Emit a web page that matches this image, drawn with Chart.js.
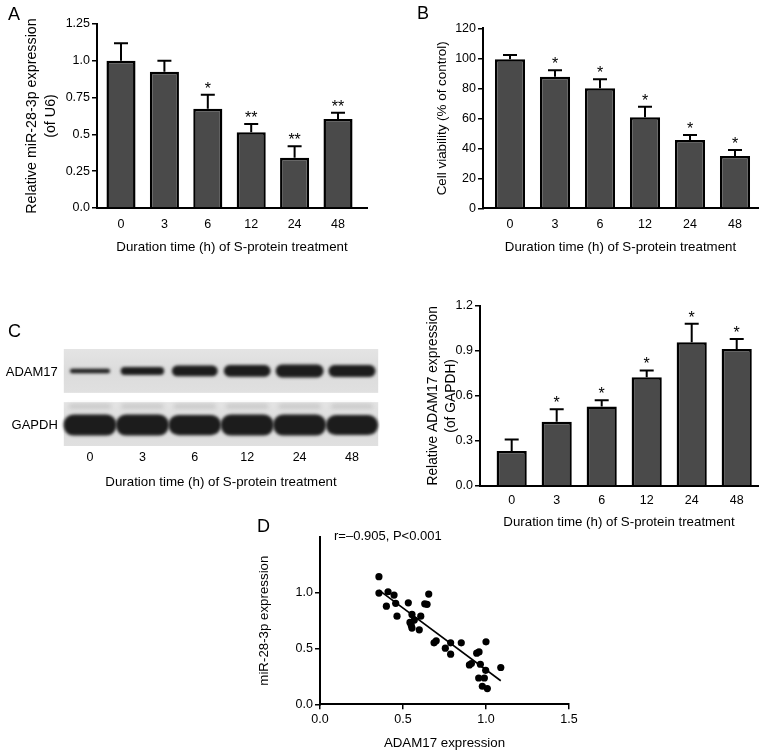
<!DOCTYPE html>
<html><head><meta charset="utf-8">
<script src="https://cdn.jsdelivr.net/npm/chart.js@4.4.1/dist/chart.umd.min.js"></script>
<style>
html,body{margin:0;padding:0;background:#fff;}
body{width:765px;height:755px;position:relative;overflow:hidden;font-family:'Liberation Sans',Arial,sans-serif;}
canvas{position:absolute;}
.lbl{position:absolute;line-height:1;white-space:nowrap;color:#000;}
</style></head><body>
<canvas id="cA" width="380" height="256" style="left:0;top:0"></canvas>
<canvas id="cB" width="385" height="256" style="left:380px;top:0"></canvas>
<canvas id="cBlot" width="380" height="151" style="left:0;top:340px"></canvas>
<canvas id="cC" width="385" height="241" style="left:380px;top:290px"></canvas>
<canvas id="cD" width="350" height="237" style="left:250px;top:515px"></canvas>
<div class="lbl" style="left:8px;top:4.8px;font-size:18px">A</div>
<div class="lbl" style="left:417px;top:3.8px;font-size:18px">B</div>
<div class="lbl" style="left:8px;top:321.8px;font-size:18px">C</div>
<div class="lbl" style="left:257px;top:516.8px;font-size:18px">D</div>
<div class="lbl" style="left:334px;top:529px;font-size:13px">r=–0.905, P&lt;0.001</div>
<script>
// ---------- DATA ----------
const timeLabels = ['0', '3', '6', '12', '24', '48'];
const xTitle = 'Duration time (h) of S-protein treatment';

// Panel A: relative miR-28-3p expression
const mirMean = [1.0, 0.925, 0.675, 0.515, 0.342, 0.605];
const mirSD   = [0.12, 0.075, 0.095, 0.055, 0.078, 0.042];
const mirStars = ['', '', '*', '**', '**', '**'];
const mirTicks = [0, 0.25, 0.5, 0.75, 1.0, 1.25];
const mirTickLabels = ['0.0', '0.25', '0.5', '0.75', '1.0', '1.25'];

// Panel B: cell viability
const viaMean = [99.3, 87.7, 80.0, 60.7, 45.5, 34.9];
const viaSD   = [2.9, 4.3, 6.0, 7.0, 3.4, 4.0];
const viaStars = ['', '*', '*', '*', '*', '*'];
const viaTicks = [0, 20, 40, 60, 80, 100, 120];
const viaTickLabels = ['0', '20', '40', '60', '80', '100', '120'];

// Panel C: relative ADAM17 expression
const adamMean = [0.233, 0.427, 0.529, 0.723, 0.956, 0.911];
const adamSD   = [0.076, 0.084, 0.042, 0.046, 0.124, 0.067];
const adamStars = ['', '*', '*', '*', '*', '*'];
const adamTicks = [0, 0.3, 0.6, 0.9, 1.2];
const adamTickLabels = ['0.0', '0.3', '0.6', '0.9', '1.2'];

// Panel C: western blot band strengths (relative)
const blotAdamBand  = [0.35, 0.62, 0.82, 0.9, 1.0, 0.92];
const blotGapdhBand = [1.0, 1.0, 0.97, 1.0, 1.0, 0.95];

// Panel D: correlation scatter
const corrX = [0.355, 0.355, 0.41, 0.40, 0.446, 0.456, 0.464, 0.532, 0.655, 0.631, 0.645, 0.554,
               0.607, 0.542, 0.568, 0.55, 0.554, 0.598, 0.687, 0.70, 0.755, 0.787, 0.787, 0.851,
               0.90, 0.912, 0.944, 0.958, 1.0, 0.966, 0.998, 0.956, 0.99, 0.978, 1.008, 1.089];
const corrY = [1.144, 0.997, 1.009, 0.88, 0.979, 0.905, 0.79, 0.91, 0.988, 0.901, 0.896, 0.806,
               0.79, 0.734, 0.755, 0.707, 0.683, 0.668, 0.551, 0.569, 0.503, 0.449, 0.551, 0.551,
               0.353, 0.365, 0.458, 0.47, 0.56, 0.359, 0.305, 0.236, 0.236, 0.162, 0.141, 0.33];
const corrXTicks = [0, 0.5, 1.0, 1.5];
const corrXTickLabels = ['0.0', '0.5', '1.0', '1.5'];
const corrYTicks = [0, 0.5, 1.0];
const corrYTickLabels = ['0.0', '0.5', '1.0'];

// ---------- SETUP ----------
const FONT = "'Liberation Sans', Arial, sans-serif";
Chart.defaults.font.family = FONT;
Chart.defaults.color = '#000';
Chart.defaults.animation = false;
const TICK = 12.5;

const errPlugin = {
  id: 'errStars',
  afterDatasetsDraw(chart) {
    const ds = chart.data.datasets[0];
    if (!ds.errUp) return;
    const meta = chart.getDatasetMeta(0);
    const ys = chart.scales.y;
    const ctx = chart.ctx;
    ctx.save();
    ctx.strokeStyle = '#000';
    ctx.lineWidth = 2;
    meta.data.forEach((bar, i) => {
      const yTop = ys.getPixelForValue(ds.data[i].y + ds.errUp[i]);
      const x = bar.x;
      ctx.beginPath();
      ctx.moveTo(x, bar.y); ctx.lineTo(x, yTop);
      ctx.moveTo(x - 7, yTop); ctx.lineTo(x + 7, yTop);
      ctx.stroke();
      const s = ds.stars[i];
      if (s) {
        ctx.font = '16px ' + FONT;
        ctx.textAlign = 'center';
        ctx.textBaseline = 'alphabetic';
        ctx.fillStyle = '#000';
        ctx.fillText(s, x, yTop - 1);
      }
    });
    ctx.restore();
  }
};

function yAxis(min, max, vals, lbls, width, title, padTop, tSize) {
  return {
    min, max, position: 'left',
    afterBuildTicks: s => { s.ticks = vals.map(v => ({ value: v })); },
    afterFit: s => { s.width = width; },
    ticks: { callback: (v, i) => lbls[i], padding: 2, font: { size: TICK }, color: '#000', autoSkip: false },
    grid: { display: true, drawOnChartArea: false, drawTicks: true, tickLength: 5, color: '#000', lineWidth: 1.5 },
    border: { display: true, color: '#000', width: 2 },
    title: { display: true, text: title, font: { size: tSize, lineHeight: 1.32 }, color: '#000', padding: { top: padTop, bottom: 0 } }
  };
}
function xBarAxis(min, max, height, pad) {
  return {
    type: 'linear', min, max, offset: false,
    afterBuildTicks: s => { s.ticks = timeLabels.map((_, i) => ({ value: i })); },
    afterFit: s => { s.height = height; },
    ticks: { callback: (v, i) => timeLabels[i], padding: pad, font: { size: TICK }, color: '#000', autoSkip: false, maxRotation: 0 },
    grid: { display: false, drawTicks: false, offset: false },
    border: { display: true, color: '#000', width: 2 },
    title: { display: true, text: xTitle, font: { size: 13.3, lineHeight: 1.35 }, color: '#000', padding: 0 }
  };
}
function barChart(id, mean, sd, stars, cfg) {
  return new Chart(document.getElementById(id), {
    type: 'bar',
    data: { datasets: [{
      data: mean.map((v, i) => ({ x: i, y: v })),
      errUp: sd, stars: stars,
      backgroundColor: '#4a4a4a', borderColor: '#000', borderWidth: 2.5,
      categoryPercentage: 1, barPercentage: 0.67
    }] },
    options: {
      responsive: false, animation: false,
      layout: { padding: { left: 0, top: cfg.padTop, right: cfg.padRight, bottom: 0 } },
      plugins: { legend: { display: false }, tooltip: { enabled: false } },
      scales: {
        x: xBarAxis(cfg.xmin, cfg.xmax, cfg.xH, cfg.xPad),
        y: yAxis(cfg.ymin, cfg.ymax, cfg.yt, cfg.ytl, cfg.yW, cfg.yTitle, cfg.yTitlePad, cfg.yTitleSize)
      }
    },
    plugins: [errPlugin]
  });
}

barChart('cA', mirMean, mirSD, mirStars, {
  padTop: 24, padRight: 13, xmin: -0.553, xmax: 5.668, xH: 48, xPad: 9,
  ymin: 0, ymax: 1.25, yt: mirTicks, ytl: mirTickLabels, yW: 97,
  yTitle: ['Relative miR-28-3p expression', '(of U6)'], yTitlePad: 22.5, yTitleSize: 14.3
});
barChart('cB', viaMean, viaSD, viaStars, {
  padTop: 28.3, padRight: 7, xmin: -0.6, xmax: 5.511, xH: 47.7, xPad: 9,
  ymin: 0, ymax: 120, yt: viaTicks, ytl: viaTickLabels, yW: 103,
  yTitle: 'Cell viability (% of control)', yTitlePad: 53, yTitleSize: 13.4
});
barChart('cC', adamMean, adamSD, adamStars, {
  padTop: 15.7, padRight: 7, xmin: -0.704, xmax: 5.473, xH: 45, xPad: 7,
  ymin: 0, ymax: 1.2, yt: adamTicks, ytl: adamTickLabels, yW: 100,
  yTitle: ['Relative ADAM17 expression', '(of GAPDH)'], yTitlePad: 44, yTitleSize: 13.8
});

// ---------- Western blot ----------
const blotPlugin = {
  id: 'blot',
  afterDraw(chart) {
    const { ctx, chartArea: a, scales: { x } } = chart;
    const H = a.bottom - a.top;
    const sh = H * 0.452;
    const strips = [
      { top: a.top, bands: blotAdamBand, hMax: 13, wMax: 48, name: 'ADAM17' },
      { top: a.bottom - sh, bands: blotGapdhBand, hMax: 21, wMax: 53, name: 'GAPDH' }
    ];
    ctx.save();
    strips.forEach((st, k) => {
      const g = ctx.createLinearGradient(0, st.top, 0, st.top + sh);
      g.addColorStop(0, '#e4e4e4'); g.addColorStop(0.5, '#dcdcdc'); g.addColorStop(1, '#e0e0e0');
      ctx.fillStyle = g;
      ctx.fillRect(a.left, st.top, a.right - a.left, sh);
      const cy = st.top + sh / 2 + (k === 0 ? 0 : 1);
      st.bands.forEach((b, i) => {
        const cx = x.getPixelForValue(i);
        const w = st.wMax * (0.75 + 0.25 * b);
        const h = st.hMax * b;
        if (k === 1) {
          ctx.filter = 'blur(2px)';
          ctx.fillStyle = 'rgba(60,60,60,0.18)';
          ctx.beginPath();
          ctx.roundRect(cx - w * 0.4, st.top + 2, w * 0.8, 4, 2);
          ctx.fill();
        }
        ctx.filter = 'blur(1.6px)';
        ctx.fillStyle = 'rgba(22,22,22,0.97)';
        ctx.beginPath();
        ctx.roundRect(cx - w / 2, cy - h / 2, w, h, Math.min(h / 2, 10));
        ctx.fill();
        ctx.filter = 'none';
      });
      ctx.fillStyle = '#000';
      ctx.font = '13px ' + FONT;
      ctx.textAlign = 'right';
      ctx.textBaseline = 'middle';
      ctx.fillText(st.name, a.left - 6, st.top + sh / 2 + 1);
    });
    ctx.restore();
  }
};
new Chart(document.getElementById('cBlot'), {
  type: 'bar',
  data: { labels: timeLabels, datasets: [{ data: blotAdamBand, backgroundColor: 'rgba(0,0,0,0)' }] },
  options: {
    responsive: false, animation: false,
    layout: { padding: { left: 63.8, top: 9, right: 1.8, bottom: 0 } },
    plugins: { legend: { display: false }, tooltip: { enabled: false } },
    scales: {
      x: {
        type: 'category', offset: true,
        afterFit: s => { s.height = 45; },
        ticks: { padding: 4, font: { size: TICK }, color: '#000', maxRotation: 0 },
        grid: { display: false, drawTicks: false },
        border: { display: false },
        title: { display: true, text: xTitle, font: { size: 13.3, lineHeight: 1.35 }, color: '#000', padding: 0 }
      },
      y: { display: false, min: 0, max: 1 }
    }
  },
  plugins: [blotPlugin]
});

// ---------- Panel D ----------
const pts = corrX.map((v, i) => ({ x: v, y: corrY[i] }));
const n = corrX.length;
const mx = corrX.reduce((s, v) => s + v, 0) / n;
const my = corrY.reduce((s, v) => s + v, 0) / n;
let sxy = 0, sxx = 0;
for (let i = 0; i < n; i++) { sxy += (corrX[i] - mx) * (corrY[i] - my); sxx += (corrX[i] - mx) ** 2; }
const slope = sxy / sxx, icpt = my - slope * mx;
const x0 = Math.min(...corrX), x1 = Math.max(...corrX);
const fitPts = [{ x: x0, y: icpt + slope * x0 }, { x: x1, y: icpt + slope * x1 }];

new Chart(document.getElementById('cD'), {
  type: 'scatter',
  data: { datasets: [
    { data: pts, pointRadius: 3.6, pointBackgroundColor: '#000', pointBorderWidth: 0, showLine: false },
    { data: fitPts, showLine: true, borderColor: '#000', borderWidth: 1.6, pointRadius: 0 }
  ] },
  options: {
    responsive: false, animation: false,
    layout: { padding: { left: 0, top: 22, right: 31, bottom: 0 } },
    plugins: { legend: { display: false }, tooltip: { enabled: false } },
    scales: {
      x: {
        type: 'linear', min: 0, max: 1.5,
        afterBuildTicks: s => { s.ticks = corrXTicks.map(v => ({ value: v })); },
        afterFit: s => { s.height = 47.7; },
        ticks: { callback: (v, i) => corrXTickLabels[i], padding: 3, font: { size: TICK }, color: '#000', maxRotation: 0 },
        grid: { display: true, drawOnChartArea: false, drawTicks: true, tickLength: 5, color: '#000', lineWidth: 1.5 },
        border: { display: true, color: '#000', width: 2 },
        title: { display: true, text: 'ADAM17 expression', font: { size: 13.3, lineHeight: 1.35 }, color: '#000', padding: 0 }
      },
      y: yAxis(0, 1.5, corrYTicks, corrYTickLabels, 70, 'miR-28-3p expression', 6, 13.3)
    }
  }
});
</script>
</body></html>
